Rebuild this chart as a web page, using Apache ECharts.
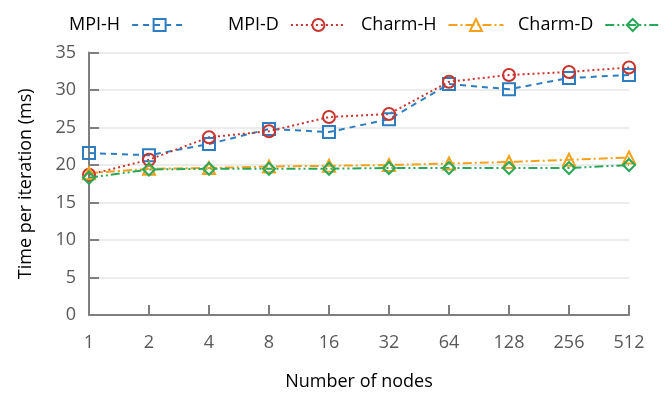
<!DOCTYPE html>
<html>
<head>
<meta charset="utf-8">
<script src="https://cdn.jsdelivr.net/npm/echarts@6/dist/echarts.min.js"></script>
<style>
  html, body { margin: 0; padding: 0; background: #fff; }
  #chart { width: 664px; height: 399px; }
</style>
</head>
<body>
<div id="chart"></div>
<script>
// 数据
var nodes = ['1', '2', '4', '8', '16', '32', '64', '128', '256', '512'];
var mpiH   = [21.6, 21.3, 22.8, 24.8, 24.4, 26.1, 30.8, 30.1, 31.6, 32.0];
var mpiD   = [18.7, 20.7, 23.7, 24.5, 26.4, 26.8, 31.1, 32.0, 32.4, 33.0];
var charmH = [18.9, 19.5, 19.6, 19.8, 19.9, 20.0, 20.2, 20.4, 20.7, 21.0];
var charmD = [18.3, 19.4, 19.5, 19.5, 19.5, 19.6, 19.6, 19.6, 19.6, 20.0];

var font = "'Open Sans', 'Noto Sans', sans-serif";

// 生成一条折线
function makeSeries(name, data, color, symbol, dash) {
    return {
        name: name,
        type: 'line',
        data: data,
        symbol: symbol,
        symbolSize: 12,
        lineStyle: { color: color, width: 2, type: dash },
        itemStyle: { color: 'rgba(255,255,255,0)', borderColor: color, borderWidth: 2 }
    };
}

// 每个图例单独放置
function makeLegend(name, left) {
    return {
        data: [name],
        left: left,
        top: 11,
        align: 'right',
        itemWidth: 55,
        itemHeight: 15,
        textStyle: { fontFamily: font, fontSize: 18, color: '#000', padding: [0, 7, 0, 0] }
    };
}

var chart = echarts.init(document.getElementById('chart'));
var option = {
    animation: false,
    legend: [
        makeLegend('MPI-H', 64),
        makeLegend('MPI-D', 223),
        makeLegend('Charm-H', 356),
        makeLegend('Charm-D', 513)
    ],
    grid: { left: 89, right: 35, top: 52.5, bottom: 84, containLabel: false },
    xAxis: {
        type: 'category',
        data: nodes,
        boundaryGap: false,
        name: 'Number of nodes',
        nameLocation: 'middle',
        nameGap: 58,
        nameTextStyle: { fontFamily: font, fontSize: 18, color: '#000' },
        axisLine: { lineStyle: { color: '#7f7f7f', width: 2 } },
        axisTick: { inside: true, length: 10, lineStyle: { color: '#7f7f7f', width: 2 }, alignWithLabel: true },
        axisLabel: { fontFamily: font, fontSize: 18, color: '#595959', margin: 19 },
        splitLine: { show: false }
    },
    yAxis: {
        type: 'value',
        min: 0,
        max: 35,
        interval: 5,
        name: 'Time per iteration (ms)',
        nameLocation: 'middle',
        nameGap: 54,
        nameTextStyle: { fontFamily: font, fontSize: 18, color: '#000' },
        axisLine: { show: true, lineStyle: { color: '#7f7f7f', width: 2 } },
        axisTick: { show: true, inside: true, length: 10, lineStyle: { color: '#7f7f7f', width: 2 } },
        axisLabel: { fontFamily: font, fontSize: 18, color: '#595959', margin: 13 },
        splitLine: { lineStyle: { color: '#e6e6e6', width: 1.5 } }
    },
    series: [
        makeSeries('MPI-H', mpiH, '#2e7dc0', 'rect', [6, 5]),
        makeSeries('MPI-D', mpiD, '#c8352e', 'circle', [2, 3]),
        makeSeries('Charm-H', charmH, '#f5a11c', 'triangle', [9, 3, 2, 3]),
        makeSeries('Charm-D', charmD, '#2aa85a', 'diamond', [9, 3, 2, 3, 2, 3])
    ]
};
chart.setOption(option);
</script>
</body>
</html>
